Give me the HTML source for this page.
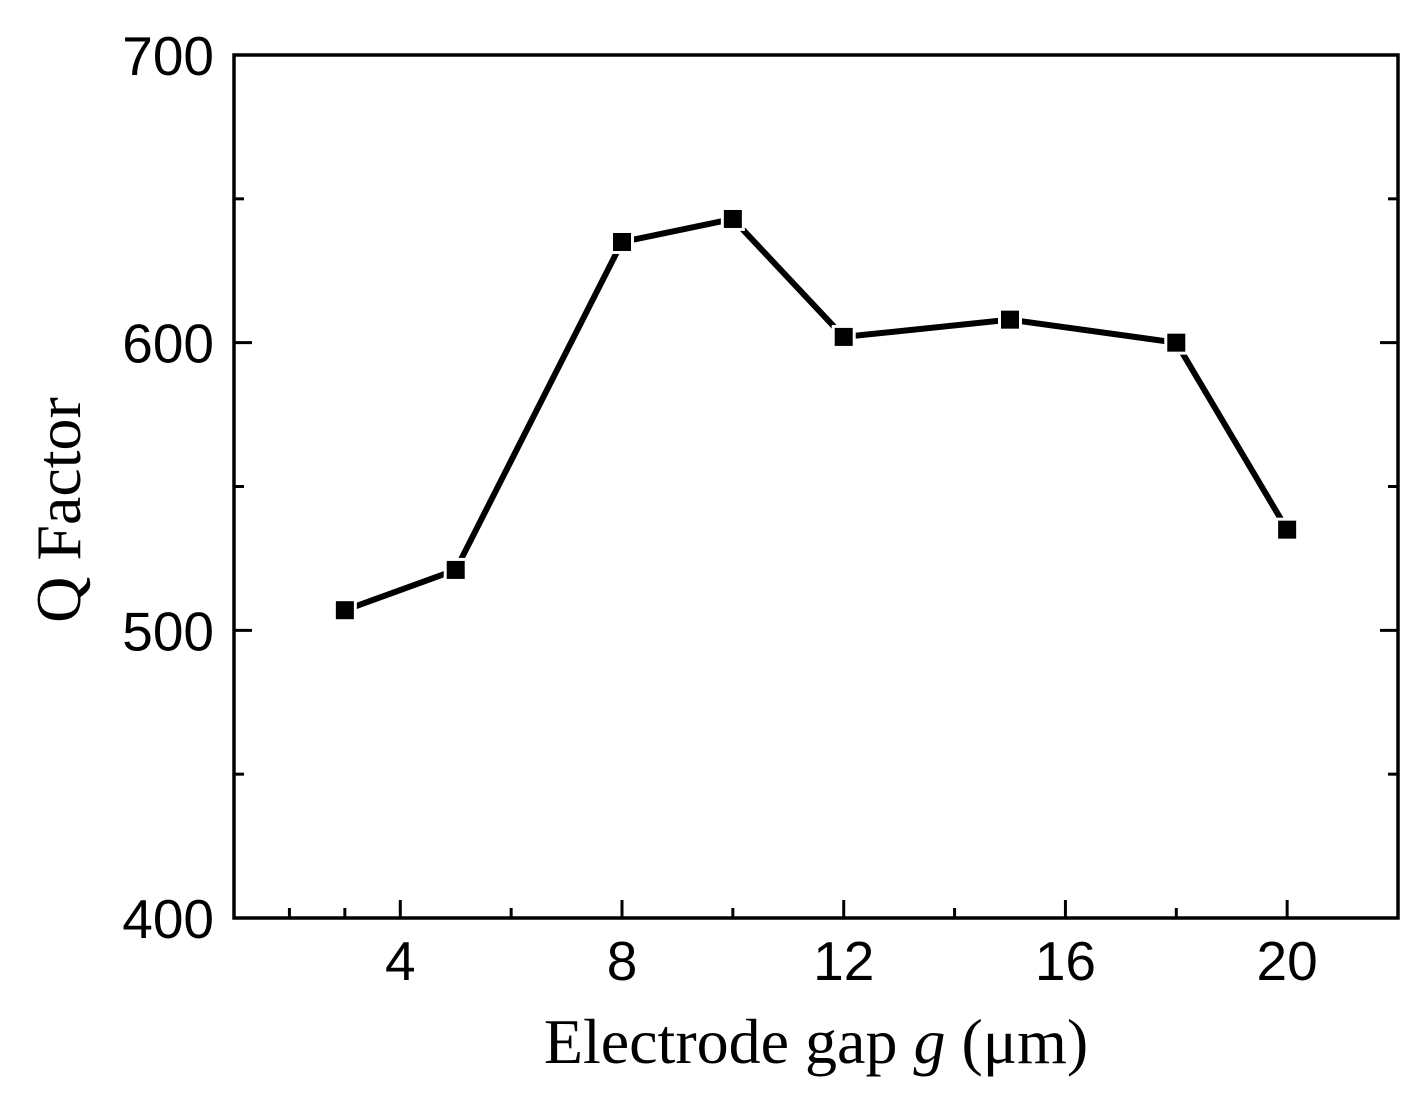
<!DOCTYPE html>
<html><head><meta charset="utf-8"><style>
body{margin:0;background:#fff;}
svg{display:block;}
.tk{font-family:"Liberation Sans",Arial,sans-serif;font-size:55px;fill:#000;}
.ttl{font-family:"Liberation Serif",serif;font-size:64px;fill:#000;}
</style></head><body>
<svg id="chart" width="1428" height="1104" viewBox="0 0 1428 1104">
<g id="ticks"></g>
<g id="series"></g>
<rect x="234" y="55" width="1164" height="863" fill="none" stroke="#000" stroke-width="3.5"/>
<text class="ttl" x="816" y="1063" text-anchor="middle">Electrode gap <tspan font-style="italic">g</tspan> (μm)</text>
<text class="ttl" transform="translate(80,510) rotate(-90)" text-anchor="middle">Q Factor</text>
</svg>
<script>
const xValues=[3,5,8,10,12,15,18,20];
const qValues=[507,521,635,643,602,608,600,535];
const xTickLabels=[4,8,12,16,20];
const yTickLabels=[400,500,600,700];
const X0=234,X1=1398,Y0=918,Y1=55;
const xMin=1,xMax=22,yMin=400,yMax=700;
function sx(v){return X0+(v-xMin)/(xMax-xMin)*(X1-X0);}
function sy(v){return Y0-(v-yMin)/(yMax-yMin)*(Y0-Y1);}
const NS="http://www.w3.org/2000/svg";
const tg=document.getElementById('ticks'),sg=document.getElementById('series');
function el(t,a,p){const e=document.createElementNS(NS,t);for(const k in a)e.setAttribute(k,a[k]);p.appendChild(e);return e;}
for(let v=2;v<=22;v+=2){const major=v%4===0;const x=sx(v);const L=major?18:10;
 const l=el('line',{x1:x,x2:x,y1:Y0,y2:Y0-L,stroke:'#000','stroke-width':3},tg);
 
 }
{const x=sx(3);const l=el('line',{x1:x,x2:x,y1:Y0,y2:Y0-10,stroke:'#000','stroke-width':3},tg);
 
 }
xTickLabels.forEach(v=>{const t=el('text',{x:sx(v),y:980,'text-anchor':'middle',class:'tk'},tg);t.textContent=v;
 
 });
for(let v=450;v<700;v+=50){const y=sy(v);const major=v%100===0;const L=major?18:10;
 [[X0,X0+L],[X1,X1-L]].forEach(([a,b])=>{const l=el('line',{x1:a,x2:b,y1:y,y2:y,stroke:'#000','stroke-width':3},tg);
 
 });}
yTickLabels.forEach(v=>{const t=el('text',{x:214,y:sy(v)+20,'text-anchor':'end',class:'tk'},tg);t.textContent=v;
 
 });
const pts=xValues.map((x,i)=>[sx(x),sy(qValues[i])]);
const pl=el('polyline',{points:pts.map(p=>p.join(',')).join(' '),fill:'none',stroke:'#000','stroke-width':6,'stroke-linejoin':'round'},sg);


pts.forEach(p=>{const r=el('rect',{x:p[0]-10.5,y:p[1]-10.5,width:21,height:21,fill:'#000',stroke:'#fff','stroke-width':3},sg);
 
 });
</script>
</body></html>
